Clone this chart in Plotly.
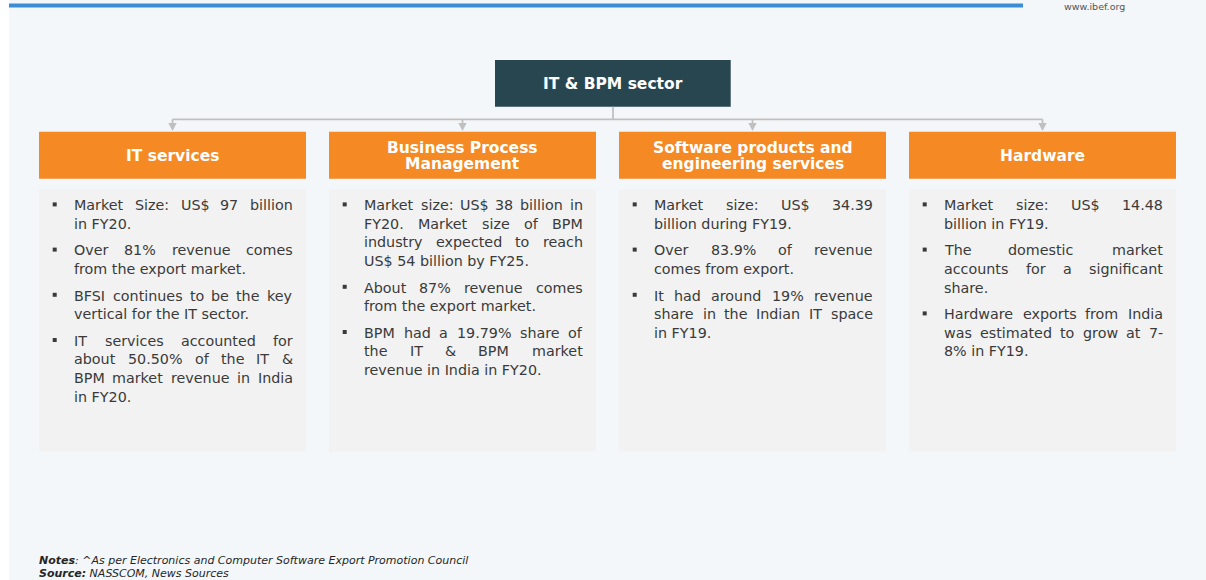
import plotly.graph_objects as go

# ---------------- data (texts of the diagram) ----------------
site_text = "www.ibef.org"
title_text = "IT & BPM sector"
headers = [
    ["IT services"],
    ["Business Process", "Management"],
    ["Software products and", "engineering services"],
    ["Hardware"],
]
col_it_services = [
    ["Market Size: US$ 97 billion", "in FY20."],
    ["Over 81% revenue comes", "from the export market."],
    ["BFSI continues to be the key", "vertical for the IT sector."],
    ["IT services accounted for", "about 50.50% of the IT &", "BPM market revenue in India", "in FY20."],
]
col_bpm = [
    ["Market size: US$ 38 billion in", "FY20. Market size of BPM", "industry expected to reach", "US$ 54 billion by FY25."],
    ["About 87% revenue comes", "from the export market."],
    ["BPM had a 19.79% share of", "the IT & BPM market", "revenue in India in FY20."],
]
col_software = [
    ["Market size: US$ 34.39", "billion during FY19."],
    ["Over 83.9% of revenue", "comes from export."],
    ["It had around 19% revenue", "share in the Indian IT space", "in FY19."],
]
col_hardware = [
    ["Market size: US$ 14.48", "billion in FY19."],
    ["The domestic market", "accounts for a significant", "share."],
    ["Hardware exports from India", "was estimated to grow at 7-", "8% in FY19."],
]
columns = [col_it_services, col_bpm, col_software, col_hardware]
notes_label = "Notes"
notes_text = ": ^As per Electronics and Computer Software Export Promotion Council"
source_label = "Source:"
source_text = " NASSCOM, News Sources"

# ---------------- layout / style ----------------
W, H = 1206, 580
BG = "#F4F7F9"
BLUE = "#3B8ED6"
TEAL = "#28464F"
ORANGE = "#F58923"
BOXGREY = "#F2F2F2"
CONN = "#C0C0C0"
TXT = "#3A3A3A"
FONT = "DejaVu Sans"
BODY_FS = 14.3
HEAD_FS = 15.5
NOTE_FS = 11

col_left = [39, 329, 619, 909]
col_w = 267

# DejaVu Sans advance widths (em)
DV = {' ': 0.318, '!': 0.401, '$': 0.636, '%': 0.950, '&': 0.780, ',': 0.318, '-': 0.361,
      '.': 0.318, ':': 0.337, '^': 0.838,
      'A': 0.684, 'B': 0.686, 'C': 0.698, 'D': 0.770, 'E': 0.632, 'F': 0.575, 'G': 0.775,
      'H': 0.752, 'I': 0.295, 'J': 0.295, 'K': 0.656, 'L': 0.557, 'M': 0.863, 'N': 0.748,
      'O': 0.787, 'P': 0.603, 'Q': 0.787, 'R': 0.695, 'S': 0.635, 'T': 0.611, 'U': 0.732,
      'V': 0.684, 'W': 0.989, 'X': 0.685, 'Y': 0.611, 'Z': 0.685,
      'a': 0.613, 'b': 0.635, 'c': 0.550, 'd': 0.635, 'e': 0.615, 'f': 0.352, 'g': 0.635,
      'h': 0.634, 'i': 0.278, 'j': 0.278, 'k': 0.579, 'l': 0.278, 'm': 0.974, 'n': 0.634,
      'o': 0.612, 'p': 0.635, 'q': 0.635, 'r': 0.411, 's': 0.521, 't': 0.392, 'u': 0.634,
      'v': 0.592, 'w': 0.818, 'x': 0.592, 'y': 0.592, 'z': 0.525}
for d in "0123456789":
    DV[d] = 0.636


def tw(s, fs):
    return sum(DV.get(c, 0.6) for c in s) * fs


def X(x):
    return x / W


def Y(y):
    return 1 - y / H


shapes = []
annotations = []


def rect(x0, y0, x1, y1, color):
    shapes.append(dict(type="rect", xref="paper", yref="paper", x0=X(x0), x1=X(x1),
                       y0=Y(y1), y1=Y(y0), fillcolor=color, line=dict(width=0), layer="below"))


def line(x0, y0, x1, y1, color, width):
    shapes.append(dict(type="line", xref="paper", yref="paper", x0=X(x0), x1=X(x1),
                       y0=Y(y0), y1=Y(y1), line=dict(color=color, width=width)))


def tri(cx, ytop, ybot, half, color):
    path = "M {a},{b} L {c},{b} L {d},{e} Z".format(
        a=X(cx - half), b=Y(ytop), c=X(cx + half), d=X(cx), e=Y(ybot))
    shapes.append(dict(type="path", xref="paper", yref="paper", path=path,
                       fillcolor=color, line=dict(width=0)))


def text(x, y, s, fs, color, xanchor="left", yanchor="middle"):
    annotations.append(dict(x=X(x), y=Y(y), xref="paper", yref="paper", text=s,
                            showarrow=False, xanchor=xanchor, yanchor=yanchor,
                            borderpad=0, borderwidth=0,
                            font=dict(family=FONT, size=fs, color=color)))


# background
rect(9, 0, W, H, BG)
rect(9, 3.5, 1023, 7.5, BLUE)
text(1094, 7, site_text, 9.5, "#555555", xanchor="center")

# title box
rect(495, 60, 730.7, 106.7, TEAL)
text(612.8, 89.2 - 0.346 * HEAD_FS, "<b>" + title_text + "</b>", HEAD_FS, "white", xanchor="center")

# connectors
centers = [cl + col_w / 2 for cl in col_left]
line(613, 106.7, 613, 119.3, CONN, 1.8)
line(centers[0], 119.3, centers[-1], 119.3, CONN, 1.8)
for cx in centers:
    line(cx, 119.3, cx, 124, CONN, 1.8)
    tri(cx, 123, 131, 4.2, CONN)

# column boxes
for ci, cl in enumerate(col_left):
    cx = cl + col_w / 2
    rect(cl, 131.7, cl + col_w, 178.7, ORANGE)
    rect(cl, 189.3, cl + col_w, 451.5, BOXGREY)
    hl = headers[ci]
    if len(hl) == 1:
        baselines = [161.8]
    else:
        baselines = [153.3, 169.3]
    for s, b in zip(hl, baselines):
        text(cx, b - 0.346 * HEAD_FS, "<b>" + s + "</b>", HEAD_FS, "white", xanchor="center")

    # bullet text
    xl = cl + 35.3
    xr = cl + 253.7
    base = 210.2
    for para in columns[ci]:
        bx = cl + 15.7
        by = base - 5.8
        rect(bx - 2, by - 2, bx + 2, by + 2, TXT)
        for li, ln in enumerate(para):
            yc = base - 0.346 * BODY_FS
            words = ln.split(" ")
            last = li == len(para) - 1
            if last or len(words) == 1:
                text(xl, yc, ln, BODY_FS, TXT, xanchor="left")
            else:
                ws = [tw(w, BODY_FS) for w in words]
                gap = (xr - xl - sum(ws)) / (len(words) - 1)
                x = xl
                for wi, w in enumerate(words):
                    if wi == len(words) - 1:
                        text(xr, yc, w, BODY_FS, TXT, xanchor="right")
                    else:
                        text(x, yc, w, BODY_FS, TXT, xanchor="left")
                    x += ws[wi] + gap
            base += 18.6
        base += 8.0

# notes
text(39, 560.3, "<b><i>" + notes_label + "</i></b><i>" + notes_text + "</i>", NOTE_FS, "#262626")
text(39, 573.3, "<b><i>" + source_label + "</i></b><i>" + source_text + "</i>", NOTE_FS, "#262626")

fig = go.Figure()
fig.update_layout(
    width=W, height=H,
    margin=dict(l=0, r=0, t=0, b=0, pad=0),
    paper_bgcolor="white", plot_bgcolor="rgba(0,0,0,0)",
    xaxis=dict(visible=False), yaxis=dict(visible=False),
    shapes=shapes, annotations=annotations, showlegend=False,
)
fig.write_html("out.html", config={"displayModeBar": False},
               post_script="document.body.style.margin='0';document.body.style.overflow='hidden';")
